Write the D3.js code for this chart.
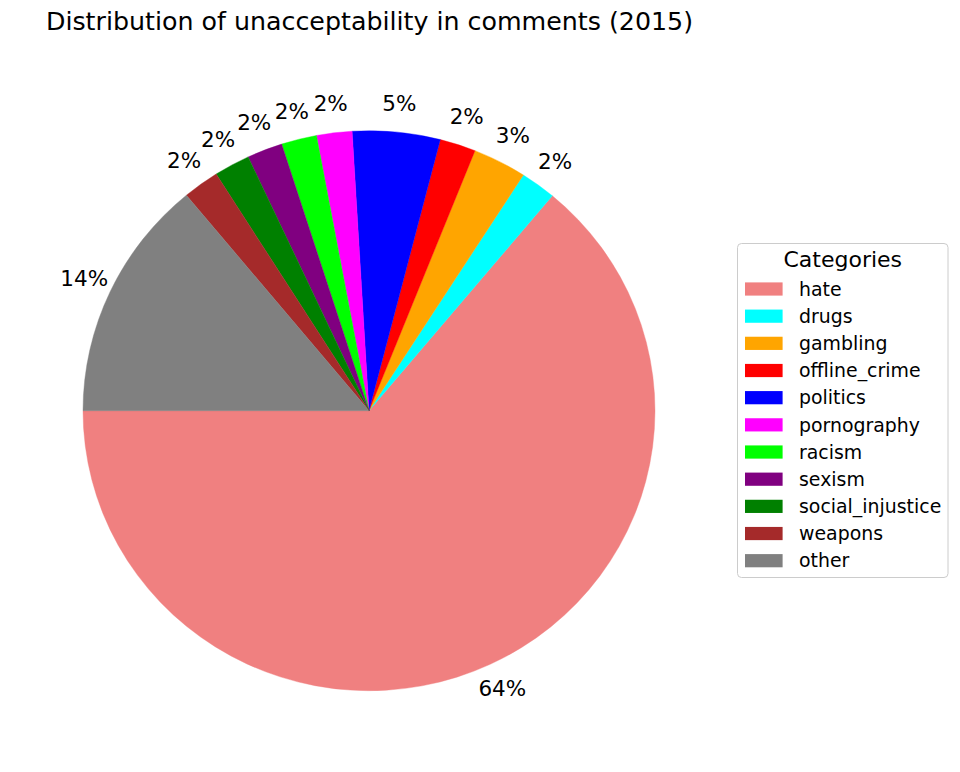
<!DOCTYPE html>
<html>
<head>
<meta charset="utf-8">
<script src="https://cdn.jsdelivr.net/npm/d3@7"></script>
<style>
  html, body { margin: 0; padding: 0; background: #ffffff; }
  svg { display: block; font-family: "DejaVu Sans", sans-serif; }
</style>
</head>
<body>
<svg id="chart" width="960" height="772"></svg>
<script>
const categories = ["hate", "drugs", "gambling", "offline_crime", "politics", "pornography",
                    "racism", "sexism", "social_injustice", "weapons", "other"];
const shares = [63.9, 2.0, 3.03, 2.03, 4.95, 2.0, 2.0, 2.0, 2.03, 2.05, 13.97];
const colors = ["#F08080", "#00FFFF", "#FFA500", "#FF0000", "#0000FF", "#FF00FF",
                "#00FF00", "#800080", "#008000", "#A52A2A", "#808080"];
const titleText = "Distribution of unacceptability in comments (2015)";
const legendTitle = "Categories";

const data = categories.map((c, i) => ({ name: c, value: shares[i], color: colors[i] }));

const svg = d3.select("#chart");
const cx = 369, cy = 410.7, rx = 286, ry = 280;

// matplotlib: startangle 180 (9 o'clock), counter-clockwise
const pie = d3.pie().sort(null).value(d => d.value)
  .startAngle(-Math.PI / 2).endAngle(-Math.PI / 2 - 2 * Math.PI);
const arcs = pie(data);
const arc = d3.arc().innerRadius(0).outerRadius(rx);

const g = svg.append("g").attr("transform", `translate(${cx},${cy}) scale(1,${ry / rx})`);
g.selectAll("path").data(arcs).enter().append("path")
  .attr("d", arc)
  .attr("fill", d => d.data.color)
  .attr("stroke", d => d.data.color)
  .attr("stroke-width", 0.4);

// percent labels at pctdistance 1.1
const total = d3.sum(shares);
const pctFont = 21.5;
svg.append("g").selectAll("text").data(arcs).enter().append("text")
  .attr("x", d => cx + 1.1 * rx * Math.sin((d.startAngle + d.endAngle) / 2))
  .attr("y", d => cy - 1.1 * ry * Math.cos((d.startAngle + d.endAngle) / 2) + 6.5)
  .attr("text-anchor", "middle")
  .attr("font-size", pctFont)
  .attr("fill", "#000")
  .text(d => d3.format(".0f")(d.data.value / total * 100) + "%");

// title
svg.append("text")
  .attr("x", 369.5).attr("y", 30)
  .attr("text-anchor", "middle")
  .attr("font-size", 25.3)
  .attr("fill", "#000")
  .text(titleText);

// legend
const lg = svg.append("g");
lg.append("rect")
  .attr("x", 737.5).attr("y", 243.5).attr("width", 210.5).attr("height", 334)
  .attr("rx", 4).attr("ry", 4)
  .attr("fill", "#fff").attr("fill-opacity", 0.8)
  .attr("stroke", "#cccccc").attr("stroke-width", 1);
lg.append("text")
  .attr("x", 842.8).attr("y", 266.7)
  .attr("text-anchor", "middle")
  .attr("font-size", 22)
  .attr("fill", "#000")
  .text(legendTitle);
const yLeg = d3.scaleLinear().domain([0, categories.length - 1]).range([289, 560.7]);
const items = lg.selectAll("g.item").data(data).enter().append("g").attr("class", "item");
items.append("rect")
  .attr("x", 745).attr("y", (d, i) => yLeg(i) - 6.6)
  .attr("width", 37.6).attr("height", 13.2)
  .attr("fill", d => d.color);
items.append("text")
  .attr("x", 799).attr("y", (d, i) => yLeg(i) + 6.7)
  .attr("font-size", 18.9)
  .attr("fill", "#000")
  .text(d => d.name);
</script>
</body>
</html>
